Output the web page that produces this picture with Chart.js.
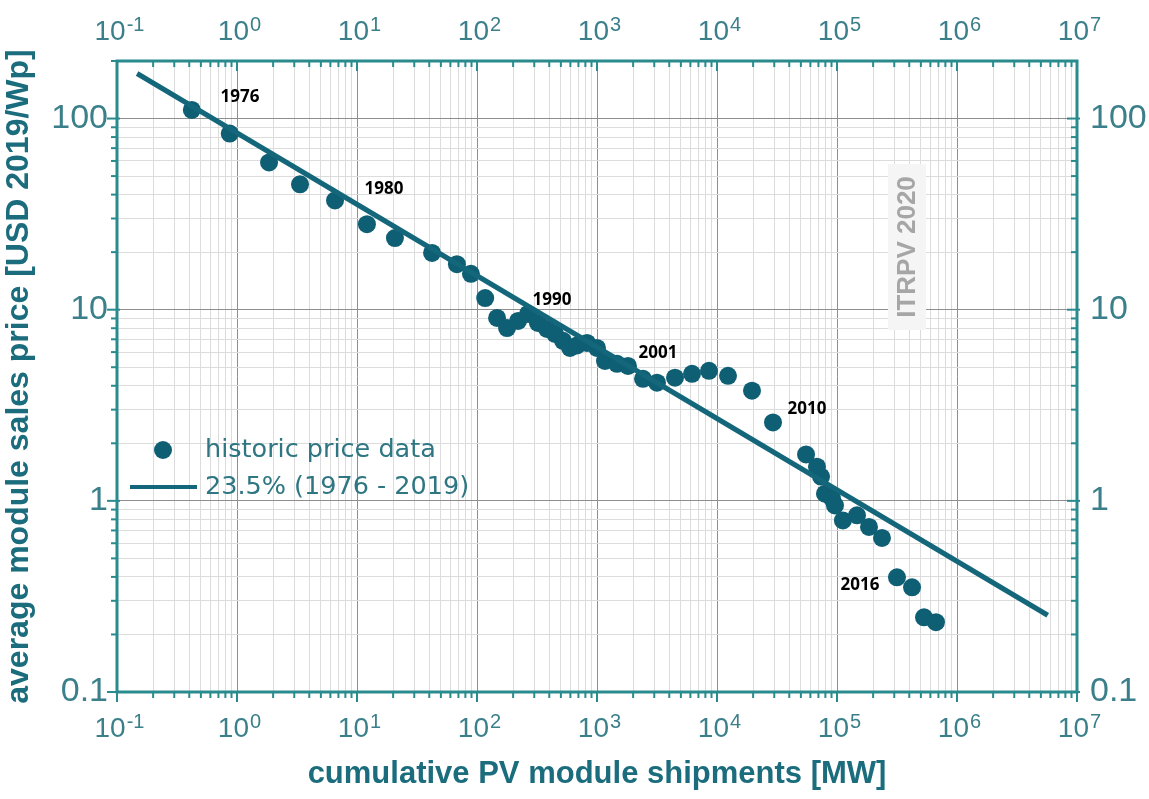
<!DOCTYPE html>
<html>
<head>
<meta charset="utf-8">
<title>PV module price learning curve</title>
<script src="https://cdn.jsdelivr.net/npm/chart.js@4.4.1/dist/chart.umd.min.js"></script>
<style>
  html, body { margin: 0; padding: 0; background: #fff; }
  #wrap { width: 1149px; height: 799px; position: relative; }
</style>
</head>
<body>
<div id="wrap"><canvas id="learningCurve"></canvas></div>
<script>
// historic module prices against cumulative shipments (one point per year)
const shipmentsMW = [0.42, 0.87, 1.85, 3.35, 6.56, 12.1, 20.7, 42.2, 68, 89,
  117, 147, 178, 220, 266, 322, 383, 447, 521, 596, 681, 826, 1000, 1166, 1468, 1813,
  2417, 3162, 4467, 6190, 8577, 12350, 19570, 29290,
  55200, 68100, 73600, 79400, 90900, 96200, 112000, 146800, 184800, 237000,
  316000, 422000, 531000, 668000];
const pricesUSD = [111, 83.5, 58.9, 45.3, 37.3, 28.0, 23.7, 19.8, 17.3, 15.4,
  11.5, 9.06, 8.01, 8.73, 9.5, 8.53, 7.93, 7.47, 6.87, 6.31, 6.5, 6.7, 6.31, 5.39, 5.21, 5.08,
  4.35, 4.15, 4.41, 4.62, 4.79, 4.51, 3.77, 2.57,
  1.75, 1.51, 1.34, 1.09, 1.03, 0.946, 0.79, 0.84, 0.73, 0.64,
  0.398, 0.353, 0.246, 0.232];

// 23.5 % learning-rate fit: a straight line on log-log axes
const fitShipments = [0.147, 5.7e6];
const fitPrices = [172, 0.252];

// year annotations
const yearText = ['1976', '1980', '1990', '2001', '2010', '2016'];
const yearShipments = [1.06, 16.8, 422, 3225, 56200, 155500];
const yearPrices = [128.7, 42.7, 11.25, 5.94, 3.0, 0.362];

// axes
const xExponents = ['-1', '0', '1', '2', '3', '4', '5', '6', '7'];
const yDecadeLabels = ['0.1', '1', '10', '100'];
const xRange = [0.1, 1e7];
const yRange = [0.1, 200];

const FONT = "'Liberation Sans', Arial, sans-serif";
const LEGEND_FONT = "'DejaVu Sans', Verdana, sans-serif";
const pointColor = '#0e5e74';
const lineColor = '#14677a';
const axisColor = '#2a8b8e';
const labelColor = '#3a7f89';
const titleColor = '#1b6c7c';

Chart.defaults.font.family = FONT;

// 1..9 per decade, decades flagged as major
function logTicks(min, max) {
  const out = [];
  for (let e = Math.floor(Math.log10(min)); e <= Math.ceil(Math.log10(max)); e++) {
    for (let m = 1; m <= 9; m++) {
      const v = +(m * Math.pow(10, e)).toPrecision(4);
      if (v >= min && v <= max) out.push({ value: v, major: m === 1 });
    }
  }
  return out;
}

const gridColor = c => (c.tick && c.tick.major) ? '#8e8e8e' : '#dcdcdc';

function logAxis(axis, position, range, extra) {
  return Object.assign({
    type: 'logarithmic',
    axis: axis,
    position: position,
    min: range[0],
    max: range[1],
    afterBuildTicks: s => { s.ticks = logTicks(range[0], range[1]); },
    border: { display: false },
    grid: { color: gridColor, lineWidth: 1, drawTicks: false }
  }, extra);
}

const yTicks = pad => ({
  autoSkip: false, maxRotation: 0, minRotation: 0, padding: pad,
  color: labelColor, font: { size: 34 },
  callback: (v, i, ticks) => ticks[i].major ? yDecadeLabels[Math.round(Math.log10(v)) + 1] : ''
});

// frame, tick marks, power-of-ten labels, legend and text annotations
const decorations = {
  id: 'decorations',
  afterDraw(chart) {
    const { ctx, chartArea: a, scales } = chart;
    const seg = (x1, y1, x2, y2) => { ctx.beginPath(); ctx.moveTo(x1, y1); ctx.lineTo(x2, y2); ctx.stroke(); };
    ctx.save();
    ctx.strokeStyle = axisColor;
    ctx.lineWidth = 2;
    scales.x.ticks.forEach(t => {
      const px = scales.x.getPixelForValue(t.value);
      const len = t.major ? 10 : 6;
      seg(px, a.bottom, px, a.bottom + len);
      seg(px, a.top, px, a.top + len);
    });
    scales.y.ticks.forEach(t => {
      const py = scales.y.getPixelForValue(t.value);
      const len = t.major ? 10 : 6;
      seg(a.left - len, py, a.left + (t.major ? 3 : 0), py);
      seg(a.right - len, py, a.right + (t.major ? 3 : 0), py);
    });
    ctx.lineWidth = 3;
    ctx.strokeRect(a.left, a.top, a.right - a.left, a.bottom - a.top);

    // 10^n labels on bottom and top axes
    ctx.fillStyle = labelColor;
    ctx.textAlign = 'left';
    ctx.textBaseline = 'alphabetic';
    scales.x.ticks.filter(t => t.major).forEach(t => {
      const px = scales.x.getPixelForValue(t.value);
      const ex = xExponents[Math.round(Math.log10(t.value)) + 1];
      ctx.font = '28px ' + FONT;
      const w1 = ctx.measureText('10').width;
      ctx.font = '20px ' + FONT;
      const w2 = ctx.measureText(ex).width;
      const x0 = px - (w1 + w2) / 2 + 2;
      [a.bottom + 45, a.top - 21].forEach(yb => {
        ctx.font = '28px ' + FONT;
        ctx.fillText('10', x0, yb);
        ctx.font = '20px ' + FONT;
        ctx.fillText(ex, x0 + w1 + 1, yb - 9);
      });
    });

    // legend
    const lx = a.left + 46, ly = a.top + 389;
    ctx.fillStyle = pointColor;
    ctx.beginPath(); ctx.arc(lx, ly, 9, 0, Math.PI * 2); ctx.fill();
    ctx.strokeStyle = lineColor; ctx.lineWidth = 4;
    seg(a.left + 13, ly + 37, a.left + 80, ly + 37);
    ctx.fillStyle = '#2d7682';
    ctx.font = '25.5px ' + LEGEND_FONT;
    ctx.textBaseline = 'middle';
    ctx.fillText('historic price data', a.left + 88, ly);
    ctx.fillText('23.5% (1976 - 2019)', a.left + 88, ly + 37);

    // year annotations
    ctx.fillStyle = '#000';
    ctx.font = "bold 17px 'Open Sans', " + FONT;
    ctx.textAlign = 'center';
    yearText.forEach((t, i) => {
      ctx.fillText(t, scales.x.getPixelForValue(yearShipments[i]), scales.y.getPixelForValue(yearPrices[i]));
    });

    // report tag
    const tx = a.left + 790, ty = a.top + 186;
    ctx.fillStyle = '#f5f5f5';
    ctx.fillRect(tx - 19, ty - 83, 38, 166);
    ctx.translate(tx, ty);
    ctx.rotate(-Math.PI / 2);
    ctx.fillStyle = '#a6a6a6';
    ctx.font = 'bold 26px ' + FONT;
    ctx.fillText('ITRPV 2020', 0, 1);
    ctx.restore();
  }
};

new Chart(document.getElementById('learningCurve'), {
  type: 'scatter',
  data: {
    datasets: [
      {
        label: '23.5% (1976 - 2019)',
        data: fitShipments.map((x, i) => ({ x: x, y: fitPrices[i] })),
        showLine: true,
        borderColor: lineColor,
        borderWidth: 5,
        pointRadius: 0,
        pointHoverRadius: 0,
        order: 1
      },
      {
        label: 'historic price data',
        data: shipmentsMW.map((x, i) => ({ x: x, y: pricesUSD[i] })),
        backgroundColor: pointColor,
        borderWidth: 0,
        pointRadius: 9,
        pointHoverRadius: 9,
        order: 2
      }
    ]
  },
  options: {
    responsive: true,
    maintainAspectRatio: false,
    animation: false,
    layout: { padding: 0 },
    plugins: { legend: { display: false }, tooltip: { enabled: false } },
    scales: {
      x: logAxis('x', 'bottom', xRange, {
        afterFit: s => { s.height = 107; },
        ticks: { display: false, autoSkip: false },
        title: {
          display: true, text: 'cumulative PV module shipments [MW]',
          color: titleColor, font: { size: 31, weight: 'bold' },
          padding: { top: 0, bottom: 6 }
        }
      }),
      x2: logAxis('x', 'top', xRange, {
        afterFit: s => { s.height = 61; },
        ticks: { display: false, autoSkip: false },
        grid: { drawOnChartArea: false, drawTicks: false }
      }),
      y: logAxis('y', 'left', yRange, {
        afterFit: s => { s.width = 117; },
        ticks: yTicks(9),
        title: {
          display: true, text: 'average module sales price [USD 2019/Wp]',
          color: titleColor, font: { size: 32, weight: 'bold' },
          padding: { top: 0, bottom: 0 }
        }
      }),
      y2: logAxis('y', 'right', yRange, {
        afterFit: s => { s.width = 72; },
        ticks: yTicks(13),
        grid: { drawOnChartArea: false, drawTicks: false }
      })
    }
  },
  plugins: [decorations]
});
</script>
</body>
</html>
